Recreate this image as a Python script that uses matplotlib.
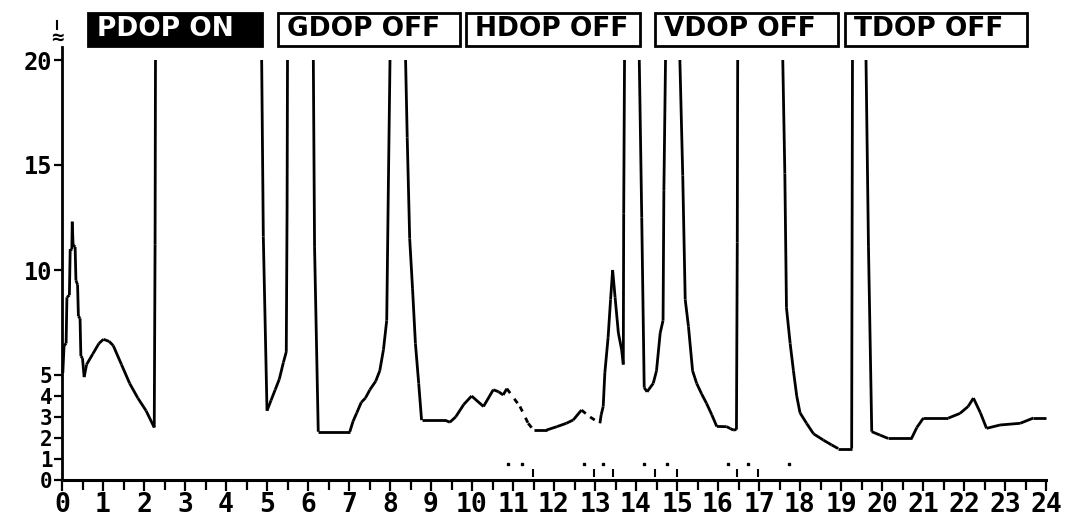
import numpy as np
import matplotlib
matplotlib.use("Agg")
import matplotlib.pyplot as plt
from matplotlib.collections import LineCollection
from matplotlib.patches import Rectangle

nan = np.nan

# PDOP over the day (hours, value); 20 is the chart ceiling, nan = off scale
hours = [
    0.02, 0.05, 0.10, 0.12, 0.18, 0.20, 0.24, 0.25, 0.27, 0.32, 0.34, 0.38, 0.40,
    0.44, 0.46, 0.50, 0.54, 0.60, 0.75, 0.90, 1.01, 1.15, 1.25, 1.45, 1.65, 1.85,
    2.05, 2.25, 2.27, 2.28, nan,
    4.87, 4.91, 5.00, 5.10, 5.20, 5.30, 5.40, 5.47, 5.49, 5.50, nan,
    6.13, 6.16, 6.25, 7.02, 7.10, 7.19, 7.30, 7.40, 7.51, 7.65, 7.75, 7.84, 7.92,
    7.96, 8.00, nan,
    8.38, 8.42, 8.48, 8.55, 8.62, 8.70, 8.77, 9.34, 9.46, 9.60, 9.80, 9.99, 10.28,
    10.52, 10.65, 10.76, 10.85, 11.17, 11.37, 11.50, 11.82, 12.07, 12.30, 12.47,
    12.67, 12.88, 13.12, 13.15, 13.20, 13.24, 13.32, 13.38, 13.43, 13.49, 13.57,
    13.65, 13.69, 13.70, 13.72, nan,
    14.08, 14.14, 14.20, 14.27, 14.42, 14.50, 14.59, 14.66, 14.68, 14.72, nan,
    15.07, 15.14, 15.20, 15.28, 15.38, 15.48, 15.60, 15.72, 15.85, 15.97, 16.21,
    16.30, 16.37, 16.45, 16.47, 16.48, nan,
    17.58, 17.63, 17.67, 17.76, 17.84, 17.92, 18.00, 18.16, 18.33, 18.57, 18.77,
    18.93, 19.26, 19.27, 19.28, nan,
    19.61, 19.67, 19.75, 19.95, 20.15, 20.72, 20.85, 21.01, 21.62, 21.90, 22.10,
    22.23, 22.40, 22.55, 22.88, 23.37, 23.69, 24.00,
]
pdop = [
    5.1, 6.4, 6.5, 8.7, 8.8, 11.0, 11.0, 12.3, 11.2, 11.1, 9.5, 9.3, 7.8,
    7.7, 5.9, 5.8, 4.9, 5.5, 6.0, 6.5, 6.7, 6.6, 6.4, 5.5, 4.6, 3.9,
    3.3, 2.5, 11.2, 20, nan,
    20, 11.6, 3.3, 3.8, 4.3, 4.8, 5.6, 6.1, 13.0, 20, nan,
    20, 11.1, 2.3, 2.3, 2.8, 3.2, 3.7, 3.9, 4.3, 4.7, 5.2, 6.2, 7.6,
    14.0, 20, nan,
    20, 16.3, 11.5, 9.1, 6.5, 4.6, 2.85, 2.85, 2.75, 3.0, 3.6, 4.0, 3.5,
    4.3, 4.2, 4.05, 4.35, 3.5, 2.7, 2.38, 2.38, 2.54, 2.7, 2.86,
    3.33, 3.0, 2.7, 3.1, 3.5, 5.1, 6.8, 8.6, 10.0, 8.7, 7.0,
    6.2, 5.5, 12.7, 20, nan,
    20, 12.5, 4.4, 4.2, 4.6, 5.2, 7.0, 7.6, 13.8, 20, nan,
    20, 14.5, 8.6, 7.3, 5.2, 4.6, 4.1, 3.65, 3.1, 2.55, 2.54,
    2.45, 2.38, 2.4, 11.3, 20, nan,
    20, 14.6, 8.2, 6.5, 5.2, 4.0, 3.2, 2.7, 2.2, 1.9, 1.67,
    1.5, 1.5, 11.0, 20, nan,
    20, 11.1, 2.3, 2.14, 1.98, 1.98, 2.5, 2.95, 2.95, 3.17, 3.5,
    3.9, 3.2, 2.46, 2.62, 2.7, 2.95, 2.95,
]
# stretches printed broken/dotted
dotted_spans = [(10.85, 11.50), (12.67, 13.12), (16.21, 16.45)]

# small satellite marks just above the time axis
mark_dots = [10.88, 11.22, 12.73, 13.20, 14.20, 14.76, 16.24, 16.73, 17.73]
mark_ticks = [11.49, 12.98, 13.44, 14.46, 15.00, 16.46, 16.98]

y_ticks = [0, 1, 2, 3, 4, 5, 10, 15, 20]
buttons = ["PDOP ON", "GDOP OFF", "HDOP OFF", "VDOP OFF", "TDOP OFF"]
button_on = [True, False, False, False, False]

W, H = 1071, 522
fig = plt.figure(figsize=(W / 100, H / 100), dpi=100)
ax = fig.add_axes([62 / W, 42 / H, 984 / W, 420 / H])

mono = "DejaVu Sans Mono"

# split the curve into solid and dotted segments
segs_solid, segs_dot = [], []
for i in range(len(hours) - 1):
    x0, x1, y0, y1 = hours[i], hours[i + 1], pdop[i], pdop[i + 1]
    if np.isnan(x0) or np.isnan(x1):
        continue
    mid = (x0 + x1) / 2
    seg = [(x0, y0), (x1, y1)]
    if any(a <= mid <= b for a, b in dotted_spans):
        segs_dot.append(seg)
    else:
        segs_solid.append(seg)

ax.add_collection(LineCollection(segs_solid, colors="black", linewidths=2.0,
                                 capstyle="butt", joinstyle="miter", clip_on=False))
ax.add_collection(LineCollection(segs_dot, colors="black", linewidths=2.0,
                                 linestyles=(0, (2, 2.5)), clip_on=False))

ax.plot(mark_dots, [0.75] * len(mark_dots), ls="none", marker="s", ms=1.6,
        color="black", clip_on=False)
ax.plot(mark_ticks, [0.35] * len(mark_ticks), ls="none", marker="|", ms=6,
        mew=1.5, color="black", clip_on=False)

ax.set_xlim(0, 24)
ax.set_ylim(0, 20)
ax.set_xticks(range(0, 25))
ax.set_xticks(np.arange(0.5, 24, 1), minor=True)
ax.set_yticks(y_ticks)
for sp in ["top", "right"]:
    ax.spines[sp].set_visible(False)
ax.spines["left"].set_linewidth(2)
ax.spines["bottom"].set_linewidth(2.2)
ax.spines["left"].set_bounds(0, 20.6)

ax.tick_params(axis="x", which="major", length=8, width=1.6, pad=1,
               labelsize=19, direction="out")
ax.tick_params(axis="x", which="minor", length=7, width=1.6, direction="out")
ax.tick_params(axis="y", length=6, width=1.6, pad=1, labelsize=15)
for lab in ax.get_xticklabels() + ax.get_yticklabels():
    lab.set_fontfamily(mono)
    lab.set_fontweight("bold")
for lab in ax.get_yticklabels():
    lab.set_fontsize(17 if lab.get_text() in ("10", "15", "20") else 15)

# axis break mark above the y axis
fig.text(57 / W, 1 - 38 / H, "\u2248", ha="center", va="center",
         fontsize=15, fontweight="bold", family=mono)
fig.add_artist(plt.Line2D([57 / W, 57 / W], [1 - 21 / H, 1 - 29 / H],
                          color="black", lw=1.5, transform=fig.transFigure))

# option buttons along the top
box_x = [(88, 262), (278, 460), (466, 640), (655, 838), (845, 1027)]
for (x0, x1), text, on in zip(box_x, buttons, button_on):
    fig.add_artist(Rectangle((x0 / W, 1 - 46 / H), (x1 - x0) / W, 33 / H,
                             transform=fig.transFigure,
                             facecolor="black" if on else "white",
                             edgecolor="black", lw=2))
    fig.text((x0 + 9) / W, 1 - 29 / H, text, ha="left", va="center",
             fontsize=19, fontweight="bold", family="DejaVu Sans",
             color="white" if on else "black")

fig.savefig("out.png", dpi=100)
